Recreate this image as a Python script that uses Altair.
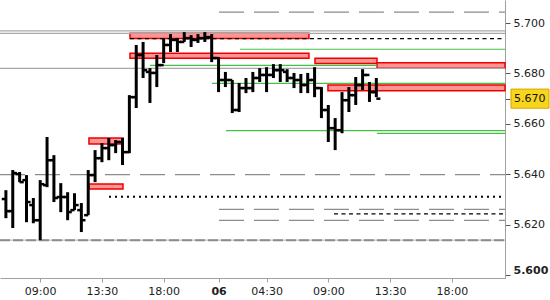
import altair as alt
import pandas as pd

# ---- OHLC bars (30-minute bars, index along the trading-time axis) ----
bar_index = list(range(55))
opens = [5.6302, 5.6254, 5.6401, 5.6377, 5.6278, 5.6218, 5.6357, 5.6456, 5.6310, 5.6310,
         5.6258, 5.6258, 5.6238, 5.6397, 5.6464, 5.6504, 5.6516, 5.6528, 5.6488, 5.6706,
         5.6873, 5.6806, 5.6802, 5.6833, 5.6913, 5.6933, 5.6925, 5.6940, 5.6933, 5.6940,
         5.6944, 5.6861, 5.6774, 5.6774, 5.6655, 5.6742, 5.6742, 5.6782, 5.6794, 5.6794,
         5.6813, 5.6806, 5.6782, 5.6774, 5.6754, 5.6774, 5.6742, 5.6655, 5.6583, 5.6575,
         5.6694, 5.6714, 5.6754, 5.6794, 5.6726]
highs = [5.6337, 5.6417, 5.6409, 5.6397, 5.6306, 5.6377, 5.6548, 5.6476, 5.6365, 5.6329,
         5.6325, 5.6286, 5.6417, 5.6496, 5.6524, 5.6544, 5.6536, 5.6544, 5.6714, 5.6913,
         5.6925, 5.6821, 5.6873, 5.6940, 5.6956, 5.6940, 5.6964, 5.6952, 5.6956, 5.6964,
         5.6956, 5.6865, 5.6806, 5.6774, 5.6762, 5.6782, 5.6806, 5.6821, 5.6825, 5.6837,
         5.6837, 5.6817, 5.6802, 5.6798, 5.6802, 5.6825, 5.6746, 5.6675, 5.6623, 5.6726,
         5.6746, 5.6786, 5.6817, 5.6766, 5.6782]
lows = [5.6226, 5.6187, 5.6369, 5.6210, 5.6206, 5.6139, 5.6349, 5.6290, 5.6250, 5.6218,
        5.6258, 5.6171, 5.6238, 5.6369, 5.6448, 5.6456, 5.6484, 5.6437, 5.6484, 5.6663,
        5.6782, 5.6683, 5.6746, 5.6841, 5.6885, 5.6885, 5.6925, 5.6905, 5.6921, 5.6925,
        5.6845, 5.6726, 5.6746, 5.6643, 5.6647, 5.6722, 5.6726, 5.6766, 5.6726, 5.6782,
        5.6766, 5.6766, 5.6742, 5.6722, 5.6722, 5.6706, 5.6623, 5.6528, 5.6496, 5.6563,
        5.6647, 5.6675, 5.6734, 5.6687, 5.6706]
closes = [5.6254, 5.6405, 5.6369, 5.6290, 5.6218, 5.6361, 5.6456, 5.6306, 5.6310, 5.6250,
          5.6278, 5.6218, 5.6397, 5.6464, 5.6504, 5.6516, 5.6528, 5.6488, 5.6706, 5.6873,
          5.6813, 5.6802, 5.6833, 5.6913, 5.6933, 5.6925, 5.6940, 5.6933, 5.6940, 5.6944,
          5.6861, 5.6774, 5.6774, 5.6655, 5.6742, 5.6742, 5.6782, 5.6794, 5.6794, 5.6813,
          5.6813, 5.6782, 5.6774, 5.6754, 5.6774, 5.6742, 5.6655, 5.6583, 5.6575, 5.6694,
          5.6714, 5.6754, 5.6794, 5.6726, 5.6700]

# ---- axes ----
x_tick_values = [5, 14, 23, 31, 38, 47, 56, 65]
x_tick_labels = ["09:00", "13:30", "18:00", "06", "04:30", "09:00", "13:30", "18:00"]
y_tick_values = [5.60, 5.62, 5.64, 5.66, 5.67, 5.68, 5.70]
X_MIN, X_MAX = -0.86, 72.76
Y_MIN, Y_MAX = 5.59888, 5.70913

# ---- horizontal levels (price, from bar index, to bar index) ----
gray_solid_price = [5.6969, 5.6959, 5.6820]
gray_solid_from = [X_MIN, X_MIN, X_MIN]
gray_solid_to = [X_MAX, X_MAX, X_MAX]

gray_dash_price = [5.7043, 5.6399, 5.6261, 5.6217]
gray_dash_from = [31.06, X_MIN, 31.06, 31.06]
gray_dash_to = [X_MAX, X_MAX, X_MAX, X_MAX]

gray_heavy_price = [5.6139]
gray_heavy_from = [X_MIN]
gray_heavy_to = [X_MAX]

black_dash_price = [5.6938, 5.6243]
black_dash_from = [18.09, 47.83]
black_dash_to = [X_MAX, X_MAX]

black_dot_price = [5.6311]
black_dot_from = [15.03]
black_dot_to = [X_MAX]

green_price = [5.6896, 5.6832, 5.6761, 5.6573, 5.6562]
green_from = [34.13, 21.0, 30.04, 32.08, 54.1]
green_to = [X_MAX, 54.1, X_MAX, X_MAX, X_MAX]

# ---- zones (boxes) ----
zone_from = [18.09, 18.09, 45.06, 54.1, 46.95, 12.11, 12.11]
zone_to = [44.18, 44.18, 54.1, X_MAX, X_MAX, 17.07, 17.07]
zone_top = [5.69591, 5.68798, 5.68599, 5.68425, 5.6754, 5.65437, 5.63611]
zone_bottom = [5.69385, 5.68599, 5.68393, 5.68202, 5.67314, 5.65199, 5.63413]

FONT = "DejaVu Sans"

xs = alt.Scale(domain=[X_MIN, X_MAX], nice=False, zero=False)
ys = alt.Scale(domain=[Y_MIN, Y_MAX], nice=False, zero=False)

bars = pd.DataFrame({"i": bar_index, "o": opens, "h": highs, "l": lows, "c": closes})
zones = pd.DataFrame({"x1": zone_from, "x2": zone_to, "top": zone_top, "bot": zone_bottom})


def levels(prices, starts, ends):
    return pd.DataFrame({"p": prices, "a": starts, "b": ends})


label_expr = "[" + ",".join("'%s'" % s for s in x_tick_labels) + "][indexof([" + \
    ",".join(str(v) for v in x_tick_values) + "], datum.value)]"

x_axis = alt.Axis(values=x_tick_values, labelExpr=label_expr, grid=False,
                  domainColor="#a0a0a0", tickColor="#a0a0a0", tickSize=4,
                  labelPadding=3, labelFont=FONT, labelFontSize=11, labelColor="#222",
                  labelFontWeight={"condition": {"test": "datum.value == 31", "value": "bold"}, "value": "normal"},
                  title=None)
y_axis = alt.Axis(orient="right", values=y_tick_values, format=".3f", grid=False,
                  domainColor="#a0a0a0", tickColor="#555", tickSize=5,
                  labelPadding=3, labelFont=FONT, labelFontSize=11, labelColor="#222",
                  labelFlush=5,
                  labelFontWeight={"condition": {"test": "datum.value == 5.6", "value": "bold"}, "value": "normal"},
                  title=None)


def X(field):
    return alt.X(field, scale=xs, axis=x_axis, title=None)


def Y(field):
    return alt.Y(field, scale=ys, axis=y_axis, title=None)


zone_layer = alt.Chart(zones).mark_rect(fill="#ff9494", stroke="#ee0000", strokeWidth=1.5).encode(
    x=X("x1:Q"), x2="x2:Q", y=Y("top:Q"), y2="bot:Q",
)


def line_layer(df, color, width, dash=None):
    kw = dict(color=color, strokeWidth=width, clip=True)
    if dash is not None:
        kw["strokeDash"] = dash
    return alt.Chart(df).mark_rule(**kw).encode(x=X("a:Q"), x2="b:Q", y=Y("p:Q"))


l_gray = line_layer(levels(gray_solid_price, gray_solid_from, gray_solid_to), "#a8a8a8", 1.2)
l_gdash = line_layer(levels(gray_dash_price, gray_dash_from, gray_dash_to), "#8c8c8c", 1.2, [25, 10])
l_gheavy_base = line_layer(levels(gray_heavy_price, gray_heavy_from, gray_heavy_to), "#b0b0b0", 1)
l_gheavy = line_layer(levels(gray_heavy_price, gray_heavy_from, gray_heavy_to), "#8c8c8c", 2, [10, 3])
l_bdash = line_layer(levels(black_dash_price, black_dash_from, black_dash_to), "#000000", 1.2, [4, 3.5])
l_bdot = line_layer(levels(black_dot_price, black_dot_from, black_dot_to), "#000000", 2, [2, 4])
l_green = line_layer(levels(green_price, green_from, green_to), "#44c044", 1.2)

bar_base = alt.Chart(bars)
hl = bar_base.mark_rule(color="black", strokeWidth=3).encode(x=X("i:Q"), y=Y("l:Q"), y2="h:Q")
open_tick = bar_base.transform_calculate(xo="datum.i - 0.6").mark_rule(color="black", strokeWidth=2.5).encode(
    x=X("xo:Q"), x2="i:Q", y=Y("o:Q"),
)
close_tick = bar_base.transform_calculate(xc="datum.i + 0.6").mark_rule(color="black", strokeWidth=2.5).encode(
    x=X("i:Q"), x2="xc:Q", y=Y("c:Q"),
)

last = pd.DataFrame({"c": [closes[-1]]})
price_box = alt.Chart(last).transform_calculate(
    t="datum.c + 0.0038", b="datum.c - 0.0038"
).mark_rect(fill="#f7d51c", stroke="#d9a400", strokeWidth=1).encode(
    x=alt.value(511), x2=alt.value(549), y=Y("t:Q"), y2="b:Q",
)
price_text = alt.Chart(last).transform_calculate(
    label="format(datum.c, '.3f')"
).mark_text(font=FONT, fontSize=11, color="#111", align="left", baseline="middle").encode(
    x=alt.value(514), y=Y("c:Q"), text="label:N",
)

chart = alt.layer(
    zone_layer, l_gray, l_gdash, l_gheavy_base, l_gheavy, l_green, l_bdash, l_bdot,
    hl, open_tick, close_tick, price_box, price_text,
).properties(
    width=505, height=278,
    autosize=alt.AutoSizeParams(type="none"),
    padding={"left": 0, "top": 0, "right": 45, "bottom": 22},
    background="white",
).configure_view(stroke=None)

chart.save("out.html", embed_options={"renderer": "svg", "actions": False})
